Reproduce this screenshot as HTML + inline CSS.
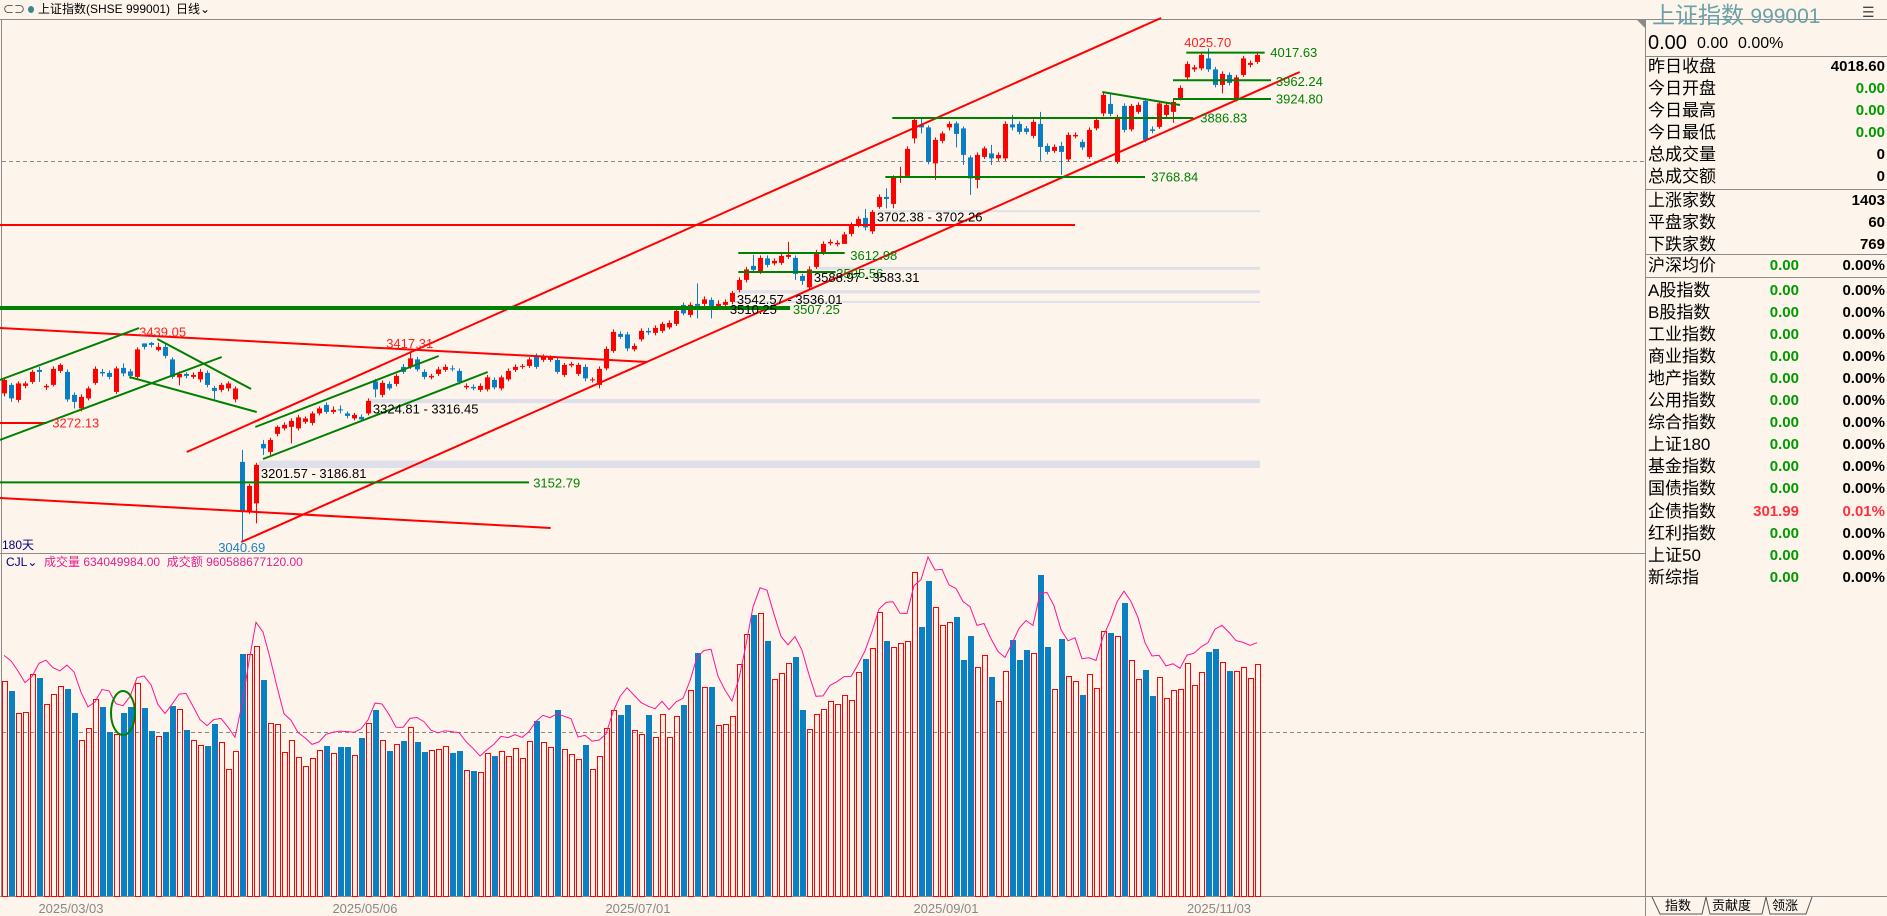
<!DOCTYPE html>
<html><head><meta charset="utf-8">
<style>
html,body{margin:0;padding:0;background:#fdf5ec;}
#root{position:relative;width:1887px;height:916px;overflow:hidden;background:#fdf5ec;font-family:"Liberation Sans","Noto Sans CJK SC",sans-serif;}
.t{position:absolute;white-space:nowrap;}
.row{position:absolute;left:1648px;width:237px;height:22px;font-size:17px;line-height:22px;}
.row .n{position:absolute;left:0;color:#000;}
.row .m{position:absolute;right:86px;font-weight:bold;font-size:15px;color:#009900;}
.row .v{position:absolute;right:0;font-weight:bold;font-size:15px;color:#000;}
.hl{position:absolute;left:1646px;width:241px;height:1px;background:#8a8a8a;}
</style></head>
<body>
<div id="root">
<svg id="chart" width="1887" height="916" style="position:absolute;left:0;top:0"></svg>

<div class="t" style="left:3px;top:1px;font-size:11px;color:#333">⊂⊃</div>
<div class="t" style="left:28px;top:6px;width:6px;height:7px;border-radius:50%;background:#3a8a8a"></div>
<div class="t" style="left:38px;top:1px;font-size:12px;line-height:17px;color:#000">上证指数(SHSE 999001)</div>
<div class="t" style="left:176px;top:1px;font-size:12px;line-height:17px;color:#000">日线⌄</div>

<div class="t" style="left:6px;top:554px;font-size:12px;line-height:16px;color:#000080">CJL⌄</div>
<div class="t" style="left:44px;top:554px;font-size:12px;line-height:16px;color:#e0208c">成交量 634049984.00&nbsp;&nbsp;成交额 960588677120.00</div>
<div class="t" style="left:2px;top:537px;font-size:12px;line-height:16px;color:#000080">180天</div>

<div>
<div class="t" style="left:1652px;top:0px;font-size:23px;line-height:30px;color:#6aa0a8">上证指数 <span style="font-size:21px">999001</span></div>
<div class="t" style="left:1862px;top:4px;font-size:14px;color:#444">☰</div>
<div class="t" style="left:1648px;top:31px;font-size:20px;line-height:24px;color:#000">0.00</div>
<div class="t" style="left:1697px;top:34px;font-size:16px;line-height:20px;color:#000">0.00</div>
<div class="t" style="left:1738px;top:34px;font-size:16px;line-height:20px;color:#000">0.00%</div>
<div class="hl" style="top:56px"></div>
<div class="hl" style="top:189px"></div>
<div class="hl" style="top:254px"></div>
<div class="hl" style="top:277px"></div>
<div id="rows"></div>
<div class="t" style="left:1665px;top:898px;font-size:13px;line-height:16px;color:#000">指数</div>
<div class="t" style="left:1712px;top:898px;font-size:13px;line-height:16px;color:#000">贡献度</div>
<div class="t" style="left:1772px;top:898px;font-size:13px;line-height:16px;color:#000">领涨</div>
</div>
</div>

<script>
const opens=[3336,3353,3323,3351,3359,3383,3348,3353,3381,3379,3333,3306,3326,3357,3379,3377,3339,3387,3380,3369,3436,3437,3423,3429,3404,3368,3375,3369,3364,3377,3347,3343,3346,3324,3199,3101,3116,3235,3219,3255,3266,3269,3266,3279,3277,3296,3313,3299,3304,3296,3286,3289,3296,3360,3333,3355,3355,3389,3389,3404,3379,3368,3375,3383,3386,3381,3348,3349,3343,3344,3363,3346,3364,3383,3389,3391,3411,3403,3403,3403,3373,3392,3375,3389,3363,3353,3386,3421,3455,3454,3424,3444,3461,3457,3461,3468,3475,3513,3493,3515,3515,3523,3511,3513,3519,3543,3563,3591,3579,3606,3596,3597,3609,3607,3571,3548,3589,3617,3636,3634,3635,3655,3672,3687,3660,3709,3729,3715,3768,3771,3846,3873,3868,3796,3841,3868,3876,3866,3808,3763,3809,3816,3806,3806,3874,3875,3866,3851,3875,3831,3821,3831,3804,3850,3839,3809,3866,3896,3915,3799,3911,3864,3899,3921,3864,3869,3893,3899,3926,3968,3984,3986,4006,3984,3953,3973,3923,3973,3993,3999];
const closes=[3363,3326,3356,3356,3379,3379,3351,3385,3393,3324,3319,3329,3346,3385,3376,3369,3386,3376,3371,3424,3429,3433,3429,3411,3369,3375,3371,3373,3379,3353,3341,3353,3356,3346,3101,3151,3193,3226,3243,3269,3273,3281,3288,3286,3296,3306,3299,3303,3303,3291,3293,3284,3321,3344,3357,3346,3371,3379,3406,3384,3369,3371,3384,3389,3384,3359,3351,3346,3351,3368,3348,3368,3381,3389,3391,3404,3389,3409,3408,3379,3393,3395,3393,3366,3364,3385,3425,3459,3449,3426,3431,3461,3458,3467,3475,3477,3501,3496,3513,3511,3524,3506,3515,3519,3537,3563,3584,3583,3607,3593,3601,3611,3613,3575,3561,3584,3618,3635,3639,3637,3654,3673,3685,3668,3699,3729,3725,3768,3771,3825,3883,3868,3799,3843,3856,3875,3855,3813,3766,3813,3826,3806,3813,3875,3868,3859,3859,3879,3829,3819,3829,3819,3853,3853,3828,3863,3883,3933,3895,3889,3863,3911,3913,3843,3861,3916,3913,3919,3947,3995,3988,4013,3984,3953,3975,3957,3968,4006,3997,4013];
const highs=[3368,3357,3360,3360,3383,3389,3355,3390,3396,3384,3338,3334,3350,3390,3385,3382,3390,3396,3385,3428,3436,3439,3437,3434,3408,3380,3378,3378,3385,3382,3351,3357,3360,3350,3223,3155,3197,3243,3247,3272,3278,3286,3293,3290,3300,3310,3318,3310,3312,3300,3297,3294,3326,3365,3362,3360,3375,3395,3417,3409,3384,3375,3389,3394,3392,3386,3356,3354,3356,3373,3368,3372,3386,3394,3395,3408,3416,3414,3412,3408,3397,3399,3397,3394,3368,3390,3430,3464,3460,3459,3436,3466,3467,3472,3479,3482,3506,3518,3518,3556,3530,3528,3522,3524,3541,3568,3589,3613,3612,3612,3606,3615,3639,3612,3575,3590,3623,3640,3644,3642,3659,3678,3690,3705,3703,3734,3746,3772,3789,3830,3888,3886,3872,3848,3860,3880,3880,3870,3812,3818,3830,3833,3818,3880,3893,3880,3871,3884,3899,3836,3834,3839,3858,3858,3844,3868,3888,3938,3936,3893,3916,3915,3918,3926,3870,3920,3918,3924,3952,4000,3993,4018,4026,3989,3980,3978,3973,4011,4002,4019];
const lows=[3330,3319,3318,3346,3355,3359,3343,3350,3377,3319,3306,3300,3322,3353,3370,3364,3335,3370,3365,3365,3424,3428,3420,3406,3365,3352,3366,3365,3358,3348,3324,3338,3340,3318,3041,3095,3076,3213,3213,3250,3262,3236,3262,3275,3272,3292,3295,3295,3296,3286,3282,3280,3292,3328,3328,3342,3350,3375,3385,3380,3364,3364,3371,3379,3380,3354,3344,3342,3339,3340,3344,3342,3360,3379,3385,3387,3385,3399,3399,3375,3369,3388,3371,3360,3358,3346,3382,3417,3445,3420,3420,3440,3453,3452,3457,3464,3471,3492,3488,3486,3510,3486,3506,3508,3514,3538,3558,3578,3575,3588,3592,3593,3605,3563,3553,3543,3585,3613,3632,3630,3650,3650,3668,3662,3655,3705,3706,3706,3757,3767,3836,3856,3794,3763,3836,3862,3828,3793,3733,3746,3805,3793,3801,3801,3862,3854,3854,3846,3801,3814,3817,3773,3800,3846,3823,3805,3862,3890,3890,3795,3858,3860,3895,3838,3856,3865,3889,3877,3922,3963,3979,3982,3979,3948,3936,3952,3920,3969,3988,3995];
const vols=[5.37,5.13,4.57,4.59,5.54,5.45,4.80,5.04,5.24,5.18,4.58,3.89,4.19,4.92,4.72,4.10,4.06,4.58,4.72,5.32,4.70,4.13,3.99,4.10,4.75,4.67,4.15,3.89,3.77,3.75,4.30,3.84,3.17,3.62,6.05,6.04,6.24,5.40,4.32,4.29,3.59,3.89,3.47,3.24,3.44,3.64,3.75,3.57,3.72,3.72,3.52,3.95,4.32,4.65,3.89,3.62,3.79,3.88,4.22,3.85,3.60,3.65,3.68,3.74,3.58,3.62,3.14,3.13,3.10,3.57,3.50,3.62,3.49,3.69,3.44,3.88,4.38,3.84,3.72,4.65,3.67,3.56,3.42,3.78,3.17,3.49,4.19,4.64,4.53,4.78,4.14,4.04,4.53,3.97,4.54,3.97,4.49,4.78,5.14,6.08,5.22,5.23,4.27,4.29,4.49,5.79,6.54,7.03,7.07,6.38,5.42,5.58,5.82,5.98,4.65,4.18,4.54,4.68,4.88,4.79,5.02,4.89,5.59,5.93,6.19,7.09,6.38,6.23,6.32,6.37,8.09,6.73,7.88,7.22,6.77,6.84,6.98,5.90,6.50,5.72,6.03,5.47,4.88,5.62,6.40,5.90,6.15,6.07,8.03,6.23,5.17,6.43,5.49,5.37,5.03,5.55,5.19,6.62,6.58,6.50,7.33,5.89,5.42,5.65,5.00,5.47,4.94,5.14,5.17,5.82,5.27,5.59,6.10,6.18,5.84,5.63,5.63,5.72,5.44,5.80];
const dateIdx=[10,52,91,135,174];
const dateLabels=["2025/03/03","2025/05/06","2025/07/01","2025/09/01","2025/11/03"];
const redLines=[[26.1,3218.8,165.3,4086.8],[33.9,3038.8,185.1,3978.8],[-0.6,3672.8,153,3672.8],[-0.6,3466.8,91.9,3398.8],[-0.6,3126.8,78.1,3066.8],[-0.6,3276.8,6.1,3276.8]];
const greenLines=[[-0.6,3362.8,19.3,3466.8],[-0.6,3242.8,31.1,3408.8],[21.9,3444.8,35.3,3344.8],[17.9,3368.8,36.1,3298.8],[35.9,3268.8,62.1,3410.8],[37,3204.8,69.1,3378.8],[-0.6,3158,75,3158],[104.9,3616.8,120.1,3616.8],[104.9,3578.8,118.8,3578.8],[126.9,3886.8,169.9,3886.8],[125.9,3768.8,163,3768.8],[156.9,3938.8,168,3912.8],[167,3924.8,181,3924.8],[167,3962.2,181,3962.2],[168.9,4017.6,180.1,4017.6]];
const thickGreen=[[-0.6,3506.8,112.3,3506.8]];
const zones=[[36.4,3201.57,3186.81],[52.1,3324.81,3316.45],[104.3,3542.57,3536.01],[104.3,3521,3520],[115.9,3588.97,3583.31],[124.7,3702.38,3702.26]];
const labels=[["3439.05",19.3,3459,"#ff2020"],["3417.31",54.6,3436,"#ff2020"],["3272.13",6.9,3276.8,"#ff2020"],["3201.57 - 3186.81",36.7,3176,"#000"],["3324.81 - 3316.45",52.7,3305,"#000"],["3152.79",75.6,3157,"#008000"],["3040.69",30.6,3028,"#2080c0"],["3702.38 - 3702.26",124.7,3689,"#000"],["3612.98",120.9,3612,"#008000"],["3595.56",118.9,3576,"#008000"],["3588.97 - 3583.31",115.7,3568,"#000"],["3542.57 - 3536.01",104.7,3524,"#000"],["3510.25",103.7,3504,"#000"],["3507.25",112.7,3504,"#008000"],["3768.84",163.9,3768.8,"#008000"],["3886.83",170.9,3886.8,"#008000"],["3924.80",181.7,3924.8,"#008000"],["3962.24",181.7,3960,"#008000"],["4017.63",180.9,4017.6,"#008000"],["4025.70",168.6,4038,"#ff2020"]];

const NS="http://www.w3.org/2000/svg";
const svg=document.getElementById('chart');
const X=i=>4+7*i;
const YP=p=>(4122.8-p)/2;
const YV=v=>896-40*v;
const RIGHT=1645;
function mk(tag,attrs,parent){const e=document.createElementNS(NS,tag);for(const k in attrs)e.setAttribute(k,attrs[k]);(parent||svg).appendChild(e);return e;}

let e;
e=mk('line',{x1:0,y1:19.5,x2:1887,y2:19.5,stroke:'#8a8a8a','stroke-width':1});


e=mk('line',{x1:1.5,y1:20,x2:1.5,y2:896,stroke:'#8a8a8a','stroke-width':1});


e=mk('line',{x1:RIGHT+0.5,y1:20,x2:RIGHT+0.5,y2:916,stroke:'#8a8a8a','stroke-width':1});


e=mk('line',{x1:0,y1:553.5,x2:RIGHT,y2:553.5,stroke:'#8a8a8a','stroke-width':1});


e=mk('line',{x1:0,y1:896.5,x2:1887,y2:896.5,stroke:'#8a8a8a','stroke-width':1});


e=mk('line',{x1:2,y1:161.5,x2:RIGHT,y2:161.5,stroke:'#888','stroke-width':1,'stroke-dasharray':'4,3'});


e=mk('line',{x1:2,y1:732.5,x2:RIGHT,y2:732.5,stroke:'#888','stroke-width':1,'stroke-dasharray':'4,3'});


e=mk('polygon',{points:(RIGHT-8)+',20 '+RIGHT+',20 '+RIGHT+',28',fill:'#8a8a8a'});



zones.forEach(z=>{const y1=YP(z[1]),y2=YP(z[2]);const h=Math.max(2,y2-y1);
 const r=mk('rect',{x:X(z[0]),y:y1,width:1260-X(z[0]),height:h,fill:'#dedfe8'});
 
 });

const gC=mk('g',{});


for(let i=0;i<closes.length;i++){
 const up=closes[i]>=opens[i];const col=up?'#ff0000':'#0b7dc2';
 const x=X(i);
 const w=mk('line',{x1:x+0.5,x2:x+0.5,y1:YP(highs[i]),y2:YP(lows[i]),stroke:col,'stroke-width':1},gC);
 
 
 const yt=YP(Math.max(opens[i],closes[i])),yb=YP(Math.min(opens[i],closes[i]));
 const b=mk('rect',{x:x-2,y:yt,width:5,height:Math.max(1,yb-yt),fill:col},gC);
 
 
}

function drawLines(arr,col,w,name){arr.forEach(l=>{const ln=mk('line',{x1:X(l[0]),y1:YP(l[1]),x2:X(l[2]),y2:YP(l[3]),stroke:col,'stroke-width':w});
 
 });}
drawLines(redLines,'#ff0000',2,'red-trendline');
drawLines(greenLines,'#008000',2,'green-trendline');
drawLines(thickGreen,'#008000',4,'support-line');

labels.forEach(l=>{const t=mk('text',{x:X(l[1]),y:YP(l[2])+4.5,fill:l[3],'font-size':13,'font-family':'Liberation Sans, sans-serif'});
 t.textContent=l[0];
 
 });

const gV=mk('g',{});


for(let i=0;i<vols.length;i++){
 const up=closes[i]>=opens[i];const x=X(i);const y=Math.round(YV(vols[i]));
 let r;
 if(up){r=mk('rect',{x:x-1.5,y:y+0.5,width:5,height:896-y,fill:'none',stroke:'#ff0000','stroke-width':1,'shape-rendering':'crispEdges'},gV);}
 else{r=mk('rect',{x:x-2,y:y,width:6,height:896-y,fill:'#0a7fc2','shape-rendering':'crispEdges'},gV);}
 
 
}
let pts=[];
for(let i=0;i<vols.length;i++){let s=0,n=0;for(let k=Math.max(0,i-2);k<=i;k++){s+=vols[k];n++;}
 const v=(s/n)*1.12;pts.push(X(i)+','+YV(v).toFixed(1));}
e=mk('polyline',{points:pts.join(' '),fill:'none',stroke:'#ff1493','stroke-width':1});


e=mk('ellipse',{cx:123,cy:713,rx:12,ry:22,fill:'none',stroke:'#008000','stroke-width':2});



dateIdx.forEach((d,k)=>{const t=mk('text',{x:X(d)-3,y:913,fill:'#888','font-size':13,'text-anchor':'middle','font-family':'Liberation Sans, sans-serif'});
 t.textContent=dateLabels[k];
 
 });

e=mk('path',{d:'M1652,897 L1660,914 L1702,914 L1706,897 M1706,897 L1710,914 L1762,914 L1766,897 M1766,897 L1770,914 L1806,914 L1812,897',fill:'none',stroke:'#555','stroke-width':1});



const rowsA=[["昨日收盘","","4018.60","#000"],["今日开盘","","0.00","#009900"],["今日最高","","0.00","#009900"],["今日最低","","0.00","#009900"],["总成交量","","0","#000"],["总成交额","","0","#000"]];
const rowsB=[["上涨家数","","1403","#000"],["平盘家数","","60","#000"],["下跌家数","","769","#000"]];
const rowsC=[["沪深均价","0.00","0.00%","#000"]];
const rowsD=[["A股指数","0.00","0.00%"],["B股指数","0.00","0.00%"],["工业指数","0.00","0.00%"],["商业指数","0.00","0.00%"],["地产指数","0.00","0.00%"],["公用指数","0.00","0.00%"],["综合指数","0.00","0.00%"],["上证180","0.00","0.00%"],["基金指数","0.00","0.00%"],["国债指数","0.00","0.00%"],["企债指数","301.99","0.01%"],["红利指数","0.00","0.00%"],["上证50","0.00","0.00%"],["新综指","0.00","0.00%"]];
const rowsEl=document.getElementById('rows');
function addRow(r,top){const d=document.createElement('div');d.className='row';d.style.top=top+'px';
 
 
 const red=r[1]==='301.99';
 d.innerHTML='<span class="n">'+r[0]+'</span>'+(r[1]?'<span class="m" style="color:'+(red?'#ff3040':'#009900')+'">'+r[1]+'</span>':'')+'<span class="v" style="color:'+(red?'#ff3040':(r[3]||'#000'))+'">'+r[2]+'</span>';
 rowsEl.appendChild(d);}
rowsA.forEach((r,k)=>addRow(r,56+k*21.9));
rowsB.forEach((r,k)=>addRow(r,190+k*21.9));
rowsC.forEach((r,k)=>addRow(r,255));
rowsD.forEach((r,k)=>addRow(r,280+k*22.05));
</script>
</body></html>
